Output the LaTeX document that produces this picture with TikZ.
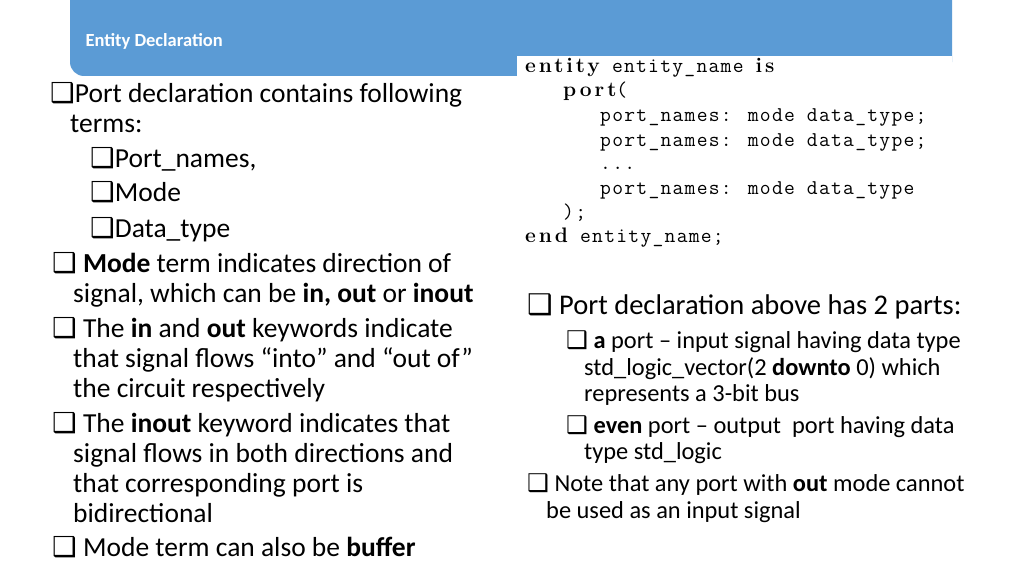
\documentclass[tikz,border=0pt]{standalone}
\usepackage{fontspec}
\setmainfont{Carlito}
\newfontfamily\dv{DejaVu Sans}
\newfontfamily\cd{Latin Modern Mono}[LetterSpace=6]
\newfontfamily\kw{Latin Modern Roman}[LetterSpace=14]
\newcommand{\bx}{{\dv\char"2751}}
\newcommand{\K}[1]{{\kw\bfseries #1}}
\begin{document}
\begin{tikzpicture}[x=1pt,y=-1pt,
  t/.style={anchor=west,inner sep=0pt,text height=0.7em,text depth=0.2em,font=\fontsize{27.5}{30}\selectfont},
  s/.style={t,font=\fontsize{24.4}{26}\selectfont},
  c/.style={anchor=west,inner sep=0pt,text height=0.7em,text depth=0.2em,font=\cd\fontsize{21}{22}\selectfont}]
\useasboundingbox (0,0) rectangle (1024,575);
\fill[white] (0,0) rectangle (1024,575);
\fill[rounded corners=14pt,fill={rgb,255:red,91;green,155;blue,213}] (70,-20) rectangle (952,76);
\fill[white] (517,56) rectangle (952,250);
\node[anchor=west,text=white,font=\bfseries\fontsize{18.5}{20}\selectfont] (h) at (82,41) {Entity Declaration};
% code
\node[c] (c1) at (525,70) {\K{entity} entity\_name \K{is}};
\node[c] (c2) at (563,94) {\K{port}(};
\node[c] (c3) at (600,119) {port\_names: mode data\_type;};
\node[c] (c4) at (600,144) {port\_names: mode data\_type;};
\node[c] (c5) at (600,167) {...};
\node[c] (c6) at (600,192) {port\_names: mode data\_type};
\node[c] (c7) at (563,216) {);};
\node[c] (c8) at (525,240) {\K{end} entity\_name;};
% left
\node[t] (l1) at (50,100) {\bx Port declaration contains following};
\node[t] (l2) at (70,130) {terms:};
\node[t] (l3) at (90,165) {\bx Port\_names,};
\node[t] (l4) at (90,199) {\bx Mode};
\node[t] (l5) at (90,235) {\bx Data\_type};
\node[t] (l6) at (52,270) {\bx{} \textbf{Mode} term indicates direction of};
\node[t] (l7) at (73,300) {signal, which can be \textbf{in, out} or \textbf{inout}};
\node[t] (l8) at (52,335) {\bx{} The \textbf{in} and \textbf{out} keywords indicate};
\node[t] (l9) at (73,365) {that signal flows “into” and “out of”};
\node[t] (l10) at (73,395) {the circuit respectively};
\node[t] (l11) at (52,430) {\bx{} The \textbf{inout} keyword indicates that};
\node[t] (l12) at (73,460) {signal flows in both directions and};
\node[t] (l13) at (73,490) {that corresponding port is};
\node[t] (l14) at (73,520) {bidirectional};
\node[t] (l15) at (52,554) {\bx{} Mode term can also be \textbf{buffer}};
% right
\node[t,font=\fontsize{28.5}{30}\selectfont] (r1) at (527,312) {\bx{} Port declaration above has 2 parts:};
\node[s] (r2) at (566,346) {\bx{} \textbf{a} port – input signal having data type};
\node[s] (r3) at (584,373) {std\_logic\_vector(2 \textbf{downto} 0) which};
\node[s] (r4) at (584,399) {represents a 3-bit bus};
\node[s] (r5) at (566,431) {\bx{} \textbf{even} port – output\ \ port having data};
\node[s] (r6) at (584,457) {type std\_logic};
\node[s] (r7) at (527,489) {\bx{} Note that any port with \textbf{out} mode cannot};
\node[s] (r8) at (546,516) {be used as an input signal};
\end{tikzpicture}
\end{document}
